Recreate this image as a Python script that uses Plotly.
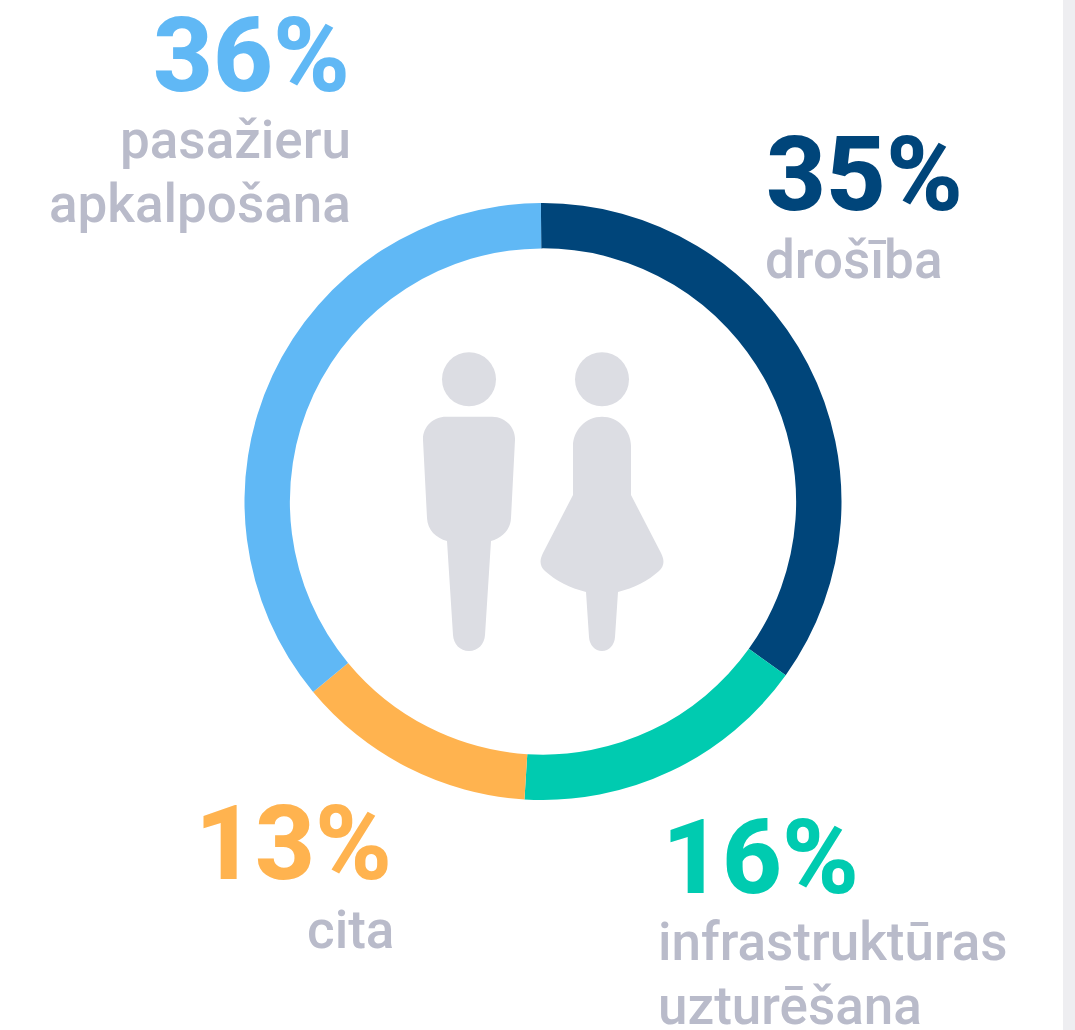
import plotly.graph_objects as go

categories = ["drošība", "infrastruktūras uzturēšana", "cita", "pasažieru apkalpošana"]
values = [35, 16.1, 13, 35.9]
colors = ["#00457A", "#00CBB0", "#FFB34F", "#60B8F5"]
percent_labels = ["35%", "16%", "13%", "36%"]
label_lines = [["drošība"], ["infrastruktūras", "uzturēšana"], ["cita"], ["pasažieru", "apkalpošana"]]

W, H = 1075, 1030
CX, CY, R = 543, 501.5, 298.5
BIG, SMALL = 104, 53
GREY, ICON, STRIP = "#B9BBCA", "#DCDDE3", "#EEEEF1"

# (anchor, big-number x, big-number y, label x, [line ys]) per category
text_pos = [
    ("left", 765, 174, 764, [260]),
    ("left", 661, 857, 657, [942, 1006]),
    ("right", 393, 843, 395, [930]),
    ("right", 351, 55, 352, [140, 204]),
]


def fit_height(y, natural):
    """Explicit box height only where the natural box would overrun the page."""
    half = min(natural / 2, y, H - y)
    return 2 * half if half < natural / 2 else None


fig = go.Figure(go.Pie(
    labels=categories, values=values, sort=False, direction="clockwise", rotation=-0.4,
    hole=0.848, textinfo="none", hoverinfo="label", showlegend=False,
    marker=dict(colors=colors, line=dict(width=0)),
    domain=dict(x=[(CX - R) / W, (CX + R) / W], y=[1 - (CY + R) / H, 1 - (CY - R) / H]),
))

anns = []
for pct, col, lines, (anchor, x, y, lx, ys) in zip(percent_labels, colors, label_lines, text_pos):
    anns.append(dict(text=pct, x=x, y=y, xanchor=anchor, yanchor="middle", showarrow=False, xref="x", yref="y",
                     borderpad=0, height=fit_height(y, BIG * 1.25),
                     font=dict(family="Roboto", size=BIG, color=col, weight=800)))
    for line, ly in zip(lines, ys):
        anns.append(dict(text=line, x=lx, y=ly, xanchor=anchor, yanchor="middle", showarrow=False, xref="x", yref="y",
                         borderpad=0, height=fit_height(ly, SMALL * 1.25),
                         font=dict(family="Roboto", size=SMALL, color=GREY, weight=500)))

man = ("M 446 416.7 L 492 416.7 C 505 416.7 515.5 427 515 440 L 511 518 C 510.5 530 502 538 491 541 "
       "L 485 635 C 484.5 644 478 651 469 651 C 460 651 453.5 644 453 635 L 447 541 "
       "C 436 538 427.5 530 427 518 L 423 440 C 422.5 427 433 416.7 446 416.7 Z")
woman = ("M 573 446 C 573 430 586 416.7 602 416.7 C 618 416.7 631 430 631 446 L 631 495 L 661 553 "
         "C 665 561 664 566 659 571 C 648 581 634 588 618 592 L 615 637 C 614.5 645 609 651 602 651 "
         "C 595 651 589.5 645 589 637 L 586 592 C 570 588 556 581 545 571 C 540 566 539 561 543 553 L 573 495 Z")
shapes = [
    dict(type="rect", x0=1063, x1=W, y0=0, y1=H, xref="x", yref="y", fillcolor=STRIP, line_width=0),
    dict(type="circle", x0=442, x1=496, y0=352.3, y1=406.3, xref="x", yref="y", fillcolor=ICON, line_width=0),
    dict(type="circle", x0=575, x1=629, y0=352.3, y1=406.3, xref="x", yref="y", fillcolor=ICON, line_width=0),
    dict(type="path", path=man, xref="x", yref="y", fillcolor=ICON, line_width=0),
    dict(type="path", path=woman, xref="x", yref="y", fillcolor=ICON, line_width=0),
]

fig.update_layout(
    width=W, height=H, margin=dict(l=0, r=0, t=0, b=0), paper_bgcolor="white", plot_bgcolor="white",
    xaxis=dict(range=[0, W], visible=False, fixedrange=True),
    yaxis=dict(range=[H, 0], visible=False, fixedrange=True),
    annotations=anns, shapes=shapes,
)
fig.write_html("out.html", config=dict(displayModeBar=False),
               post_script="document.body.style.margin='0';document.body.style.overflow='hidden';")
